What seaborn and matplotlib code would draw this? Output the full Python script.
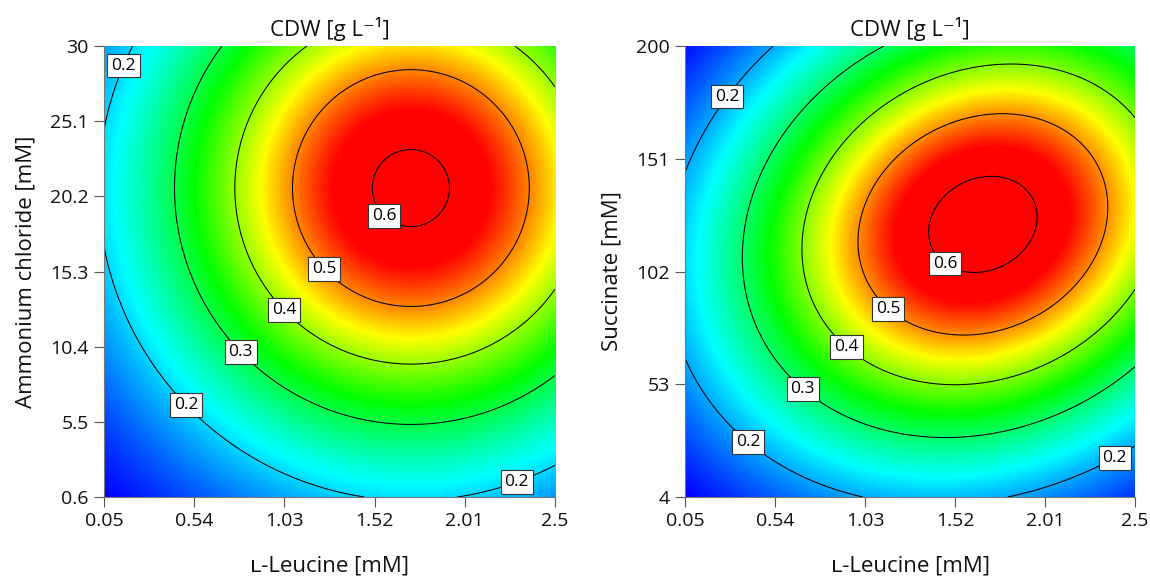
import numpy as np
import matplotlib
matplotlib.use("Agg")
import matplotlib.pyplot as plt
from matplotlib.colors import LinearSegmentedColormap
import seaborn as sns

# factor ranges (low, high) and tick values
leucine_range = [0.05, 2.5]
ammonium_range = [0.6, 30]
succinate_range = [4, 200]
leucine_ticks = [0.05, 0.54, 1.03, 1.52, 2.01, 2.5]
ammonium_ticks = [0.6, 5.5, 10.4, 15.3, 20.2, 25.1, 30]
succinate_ticks = [4, 53, 102, 151, 200]

# fitted quadratic models on CDW^-0.5 (coded factors): b0, b1, b2, b11, b22, b12
coef_ammonium = [1.410, -0.361, -0.370, 0.500, 0.500, 0.000]
coef_succinate = [1.3315, -0.290, -0.2127, 0.505, 0.646, -0.177]

contour_levels = [0.2, 0.3, 0.4, 0.5, 0.6]

sns.set_style("ticks")
plt.rcParams["font.family"] = ["Open Sans", "DejaVu Sans"]

cmap = LinearSegmentedColormap.from_list(
    "de", ["#0000ff", "#00ffff", "#00ff00", "#ffff00", "#ff0000"])


def predict(coef, xr, yr, n=300):
    x = np.linspace(xr[0], xr[1], n)
    y = np.linspace(yr[0], yr[1], n)
    X, Y = np.meshgrid(x, y)
    A = (X - (xr[0] + xr[1]) / 2) / ((xr[1] - xr[0]) / 2)
    B = (Y - (yr[0] + yr[1]) / 2) / ((yr[1] - yr[0]) / 2)
    b0, b1, b2, b11, b22, b12 = coef
    g = b0 + b1 * A + b2 * B + b11 * A**2 + b22 * B**2 + b12 * A * B
    return X, Y, 1.0 / g**2


def panel(ax, coef, yr, yticks, ylabel, label_pos):
    X, Y, Z = predict(coef, leucine_range, yr)
    ax.imshow(Z, origin="lower", aspect="auto", cmap=cmap,
              vmin=Z.min(), vmax=0.56, interpolation="bilinear",
              extent=[leucine_range[0], leucine_range[1], yr[0], yr[1]])
    cs = ax.contour(X, Y, Z, levels=contour_levels, colors="black", linewidths=0.75)
    labels = ax.clabel(cs, fmt="%.1f", fontsize=12.5, inline=False, manual=label_pos,
                       colors="black")
    for t in labels:
        t.set_rotation(0)
        t.set_bbox(dict(facecolor="white", edgecolor="#333333", linewidth=0.8, pad=2.8))
        t.set_zorder(5)
    ax.set_xlim(leucine_range)
    ax.set_ylim(yr)
    ax.set_xticks(leucine_ticks)
    ax.set_xticklabels([f"{v:g}" for v in leucine_ticks])
    ax.set_yticks(yticks)
    ax.set_yticklabels([f"{v:g}" for v in yticks])
    ax.tick_params(labelsize=14, length=7, width=0.8, color="#555555", pad=4,
                   labelcolor="#111111")
    ax.set_xlabel("ʟ-Leucine [mM]", fontsize=16, labelpad=18, color="#111111")
    ax.set_ylabel(ylabel, fontsize=16, labelpad=10, color="#111111")
    ax.set_title("CDW [g L⁻¹]", fontsize=16, pad=7, color="#111111")
    for s in ["top", "right"]:
        ax.spines[s].set_visible(False)
    for s in ["left", "bottom"]:
        ax.spines[s].set_color("#777777")
        ax.spines[s].set_linewidth(0.8)


fig = plt.figure(figsize=(11.5, 5.81), dpi=100)
ax1 = fig.add_axes([0.0904, 0.1446, 0.3922, 0.7762])
ax2 = fig.add_axes([0.5957, 0.1446, 0.3913, 0.7762])

panel(ax1, coef_ammonium, ammonium_range, ammonium_ticks, "Ammonium chloride [mM]",
      [(0.18, 28.6), (0.49, 6.5), (0.79, 10.0), (1.02, 12.7), (1.24, 15.4),
       (1.58, 19.0), (2.28, 2.0)])
panel(ax2, coef_succinate, succinate_range, succinate_ticks, "Succinate [mM]",
      [(0.28, 178), (0.38, 26.6), (0.69, 50.9), (0.92, 68.3), (1.16, 86.1),
       (1.48, 107), (2.41, 17.9)])

fig.savefig("out.png", dpi=100)
